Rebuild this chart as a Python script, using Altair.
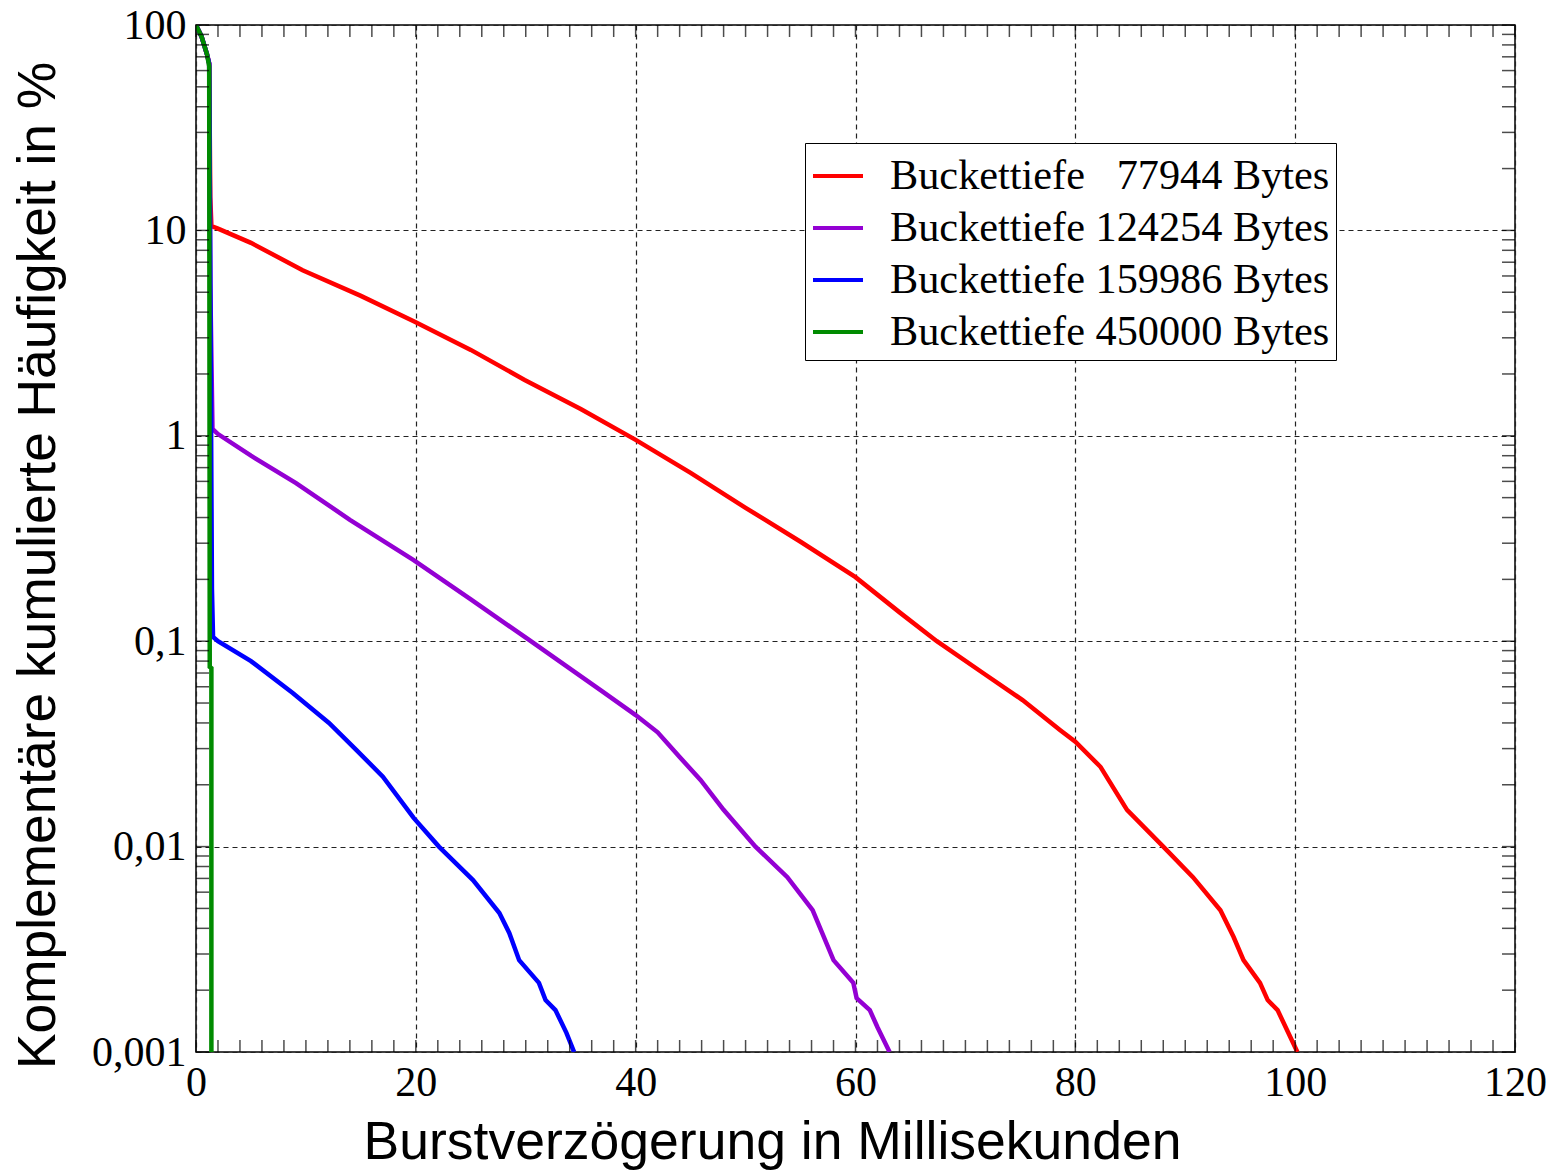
import altair as alt
import pandas as pd

# ---- data ----
series_names = [
    "Buckettiefe \u200777944 Bytes",
    "Buckettiefe 124254 Bytes",
    "Buckettiefe 159986 Bytes",
    "Buckettiefe 450000 Bytes",
]
series_colors = ["#ff0000", "#9400d3", "#0000ff", "#008b00"]

red_x = [0, 0.5, 1.0, 1.2, 1.3, 1.4, 2, 5, 9.7, 15, 19.9, 25, 29.9, 35, 40, 45, 50, 55, 60,
         64.1, 67.4, 71.6, 75.2, 78.6, 80, 82.3, 84.7, 88, 90.7, 93.2, 94.4, 95.3, 96.8, 97.5,
         98.4, 100.2]
red_y = [100, 88, 72, 65, 14.5, 10.5, 10.2, 8.7, 6.4, 4.8, 3.59, 2.62, 1.87, 1.35, 0.955, 0.66,
         0.446, 0.305, 0.205, 0.137, 0.1, 0.07, 0.0517, 0.037, 0.0324, 0.0244, 0.0151, 0.01,
         0.0071, 0.0049, 0.00363, 0.0028, 0.00217, 0.00179, 0.0016, 0.001]

purple_x = [0, 0.5, 1.0, 1.2, 1.3, 1.5, 2, 5, 9.1, 14, 19.8, 25, 30.3, 36.8, 40, 42, 44, 45.9, 48,
            50.9, 53.8, 56.1, 58, 59.8, 60.1, 61.3, 62, 63.1]
purple_y = [100, 88, 72, 65, 5.5, 1.08, 1.02, 0.8, 0.589, 0.39, 0.248, 0.16, 0.1014, 0.0578,
            0.0437, 0.036, 0.0273, 0.0211, 0.0151, 0.01, 0.0071, 0.0049, 0.0028, 0.00217, 0.00183,
            0.0016, 0.00132, 0.001]

blue_x = [0, 0.5, 1.0, 1.2, 1.45, 1.55, 2, 5, 8.8, 12.1, 14.6, 17, 19.8, 22.1, 25.2, 27.6, 28.5,
          29.4, 31.2, 31.8, 32.7, 33.7, 34.4]
blue_y = [100, 88, 72, 65, 0.18, 0.105, 0.1, 0.08, 0.056, 0.04, 0.0295, 0.0219, 0.0138, 0.01,
          0.00687, 0.00475, 0.0038, 0.0028, 0.00217, 0.00179, 0.0016, 0.00124, 0.001]

green_x = [0, 0.5, 1.0, 1.2, 1.25, 1.4, 1.4]
green_y = [100, 88, 72, 63, 0.075, 0.074, 0.001]

x_grid = [0, 20, 40, 60, 80, 100, 120]
y_grid = [0.001, 0.01, 0.1, 1, 10, 100]
x_ticks = list(range(0, 121, 2))
y_ticks = [k * 10.0 ** d for d in range(-3, 2) for k in range(1, 10)] + [100]

rows = []
for name, xs, ys in zip(series_names,
                        [red_x, purple_x, blue_x, green_x],
                        [red_y, purple_y, blue_y, green_y]):
    for i, (a, b) in enumerate(zip(xs, ys)):
        rows.append({"serie": name, "x": a, "y": b, "i": i})
df = pd.DataFrame(rows)

W, H = 1319, 1027
xscale = alt.Scale(domain=[0, 120], nice=False, zero=False)
yscale = alt.Scale(type="log", domain=[0.001, 100], nice=False)

serif = "Liberation Serif"
sans = "Liberation Sans"

x_axis = alt.Axis(values=x_grid, ticks=False, tickSize=0, domain=False,
                  grid=True, gridDash=[5, 4], gridColor="#222", gridWidth=1.2,
                  labelFont=serif, labelFontSize=42, labelColor="black",
                  labelPadding=10, labelOverlap=False, labelFlush=False,
                  title="Burstverzögerung in Millisekunden",
                  titleFont=sans, titleFontSize=53.5, titleFontWeight="normal",
                  titleColor="black", titleX=576, titleY=106,
                  titleBaseline="alphabetic", titleAnchor="middle")
y_axis = alt.Axis(values=y_grid, ticks=False, tickSize=0, domain=False,
                  grid=True, gridDash=[5, 4], gridColor="#222", gridWidth=1.2,
                  labelFont=serif, labelFontSize=42, labelColor="black",
                  labelPadding=10, labelOverlap=False, labelFlush=False,
                  labelBaseline="middle",
                  labelExpr="datum.value >= 1 ? format(datum.value, 'd') : replace(format(datum.value, '~g'), '.', ',')",
                  title="Komplementäre kumulierte Häufigkeit in %",
                  titleFont=sans, titleFontSize=53.3, titleFontWeight="normal",
                  titleColor="black", titleX=-142, titleY=540,
                  titleBaseline="alphabetic", titleAnchor="middle", titleAngle=270)

lines = alt.Chart(df).mark_line(strokeWidth=4.5, clip=True).encode(
    x=alt.X("x:Q", scale=xscale, axis=x_axis),
    y=alt.Y("y:Q", scale=yscale, axis=y_axis),
    color=alt.Color("serie:N",
                    scale=alt.Scale(domain=series_names, range=series_colors),
                    legend=alt.Legend(title=None, orient="none", legendX=609, legendY=118,
                                      labelFont=serif, labelFontSize=42.3, labelColor="black",
                                      labelLimit=0, labelOffset=25,
                                      symbolType="stroke", symbolSize=2500, symbolStrokeWidth=4,
                                      rowPadding=3, padding=6,
                                      strokeColor="black", fillColor="white")),
    order="i:Q",
)

xt = pd.DataFrame({"x": x_ticks})
yt = pd.DataFrame({"y": y_ticks})

tick_bottom = alt.Chart(xt).mark_tick(color="black", size=12, thickness=1.5).encode(
    x=alt.X("x:Q", scale=xscale, axis=x_axis), y=alt.value(H - 6))
tick_top = alt.Chart(xt).mark_tick(color="black", size=12, thickness=1.5).encode(
    x=alt.X("x:Q", scale=xscale, axis=x_axis), y=alt.value(6))
tick_left = alt.Chart(yt).mark_tick(color="black", size=13, thickness=1.5).encode(
    y=alt.Y("y:Q", scale=yscale, axis=y_axis), x=alt.value(6.5))
tick_right = alt.Chart(yt).mark_tick(color="black", size=13, thickness=1.5).encode(
    y=alt.Y("y:Q", scale=yscale, axis=y_axis), x=alt.value(W - 6.5))

chart = alt.layer(lines, tick_bottom, tick_top, tick_left, tick_right).properties(
    width=W, height=H,
    autosize=alt.AutoSizeParams(type="none"),
    padding={"left": 196, "top": 25, "right": 40, "bottom": 118},
    background="white",
).configure_view(stroke="black", strokeWidth=1.5)

chart.save("out.html", embed_options={"renderer": "svg", "actions": False})
